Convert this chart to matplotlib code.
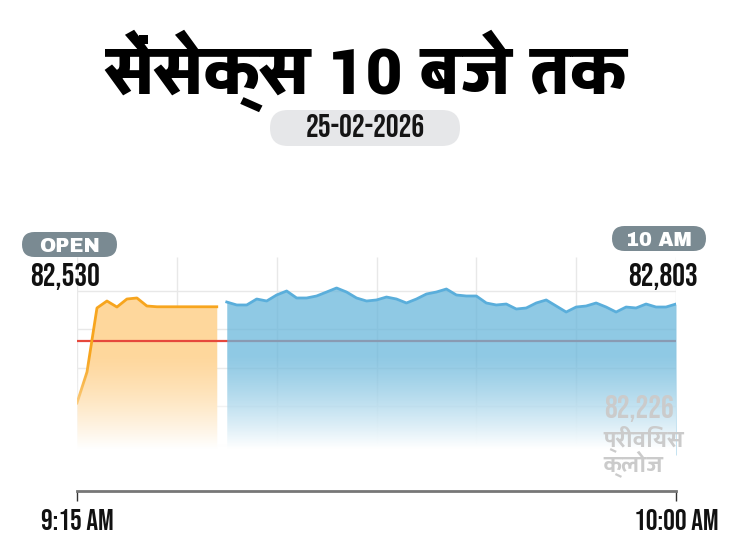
import numpy as np
import matplotlib
matplotlib.use("Agg")
import matplotlib.pyplot as plt
from matplotlib import font_manager as fm
from matplotlib.patches import FancyBboxPatch
from matplotlib.transforms import IdentityTransform

# Data (Sensex points, one reading every 45 s)
step_min = 0.75
open_vals = [81259, 81742, 82741, 82850, 82756, 82881, 82897, 82772,
             82760, 82760, 82760, 82760, 82760, 82760, 82760]
live_vals = [82834, 82788, 82788, 82881, 82850, 82944, 83006, 82897, 82897, 82928,
             82990, 83053, 82990, 82897, 82850, 82866, 82912, 82881, 82819, 82881,
             82959, 82990, 83037, 82944, 82928, 82928, 82819, 82788, 82803, 82725,
             82741, 82819, 82866, 82772, 82678, 82756, 82772, 82819, 82756, 82678,
             82756, 82741, 82803, 82756, 82756, 82803]
prev_close = 82226
open_label = "82,530"
last_label = "82,803"
prev_label = "82,226"
x_labels = ["9:15 AM", "10:00 AM"]
title = "सेंसेक्स 10 बजे तक"
date_txt = "25-02-2026"
prev_txt = "प्रीवियस\nक्लोज"

W, H = 730, 548
have = {f.name for f in fm.fontManager.ttflist}


def fonts(*names):
    return [n for n in names if n in have] + ["DejaVu Sans"]


f_title = fonts("Yantramanav", "Mukta", "Hind")
f_num = fonts("Bebas Neue", "Fjalla One", "Oswald", "Roboto Condensed")
f_badge = fonts("Archivo Black", "Lato")
f_hin = fonts("Yantramanav", "Mukta", "Hind")

fig = plt.figure(figsize=(W / 100, H / 100), dpi=100)


def fx(x):
    return x / W


def fy(y):
    return 1 - y / H


def pill(x0, y0, x1, y1, color):
    r = (y1 - y0) / 2
    p = FancyBboxPatch((x0 + r, H - y1 + r), x1 - x0 - 2 * r, y1 - y0 - 2 * r,
                       boxstyle="round,pad=%f" % r, transform=IdentityTransform(),
                       facecolor=color, edgecolor="none")
    fig.add_artist(p)


# header
fig.text(fx(366), fy(94), title, ha="center", va="baseline", fontsize=51,
         family=f_title, weight="black", color="black")
pill(270, 110, 460, 146, "#e6e7e9")
fig.text(fx(365), fy(137), date_txt, ha="center", va="baseline", fontsize=23,
         family=f_num, color="#151515")

# chart
ax = fig.add_axes([fx(77), fy(491), fx(676) - fx(77), (491 - 257) / H])
k = 15.6  # points per pixel
ybot = prev_close - 150 * k
ytop = prev_close + 84 * k
ax.set_xlim(0, 45)
ax.set_ylim(ybot, ytop)

x_open = np.arange(len(open_vals)) * step_min
x_live = (np.arange(len(live_vals)) + len(open_vals)) * step_min
fill_floor = prev_close - 114 * k

grid_y = 83010 - 600 * np.arange(5)
ax.hlines(grid_y, 0, 45, color="#e8e8e8", lw=1, zorder=0)
ax.vlines(np.arange(0, 45.1, 7.5), fill_floor, ytop, color="#e8e8e8", lw=1, zorder=0)

ax.fill_between(x_open, open_vals, fill_floor, color="#fed79c", lw=0, zorder=1)
ax.plot(x_open, open_vals, color="#f7a51e", lw=2, zorder=4, solid_joinstyle="round")
ax.axhline(prev_close, color="#e6483c", lw=1.6, zorder=2)
ax.fill_between(x_live, live_vals, fill_floor, color="#6ab7db", alpha=0.75, lw=0, zorder=3)
ax.plot(x_live, live_vals, color="#5aaedb", lw=2, zorder=4, solid_joinstyle="round")

# fade to white at the bottom
fade = np.ones((120, 1, 4))
fade[:, 0, 3] = np.clip(np.linspace(0, 1.15, 120), 0, 1) ** 1.3
ax.imshow(fade, extent=(0, 45, prev_close - 122 * k, prev_close - 12 * k),
          origin="upper", aspect="auto", zorder=5)

for s in ["top", "left", "right"]:
    ax.spines[s].set_visible(False)
ax.spines["bottom"].set_color("#777777")
ax.spines["bottom"].set_linewidth(2)
ax.set_yticks([])
ax.set_xticks([0, 45])
ax.set_xticklabels(x_labels, fontsize=21, family=f_num, color="#111111")
ax.tick_params(axis="x", length=7, width=1, color="#333333", pad=6)

# labels over the chart
pill(22, 232, 117, 257, "#7a8a92")
fig.text(fx(69.5), fy(245), "OPEN", ha="center", va="center_baseline", fontsize=14,
         family=f_badge, weight="black", color="white")
fig.text(fx(30), fy(286), open_label, ha="left", va="baseline", fontsize=23,
         family=f_num, color="#111111")

pill(612, 226, 706, 251, "#7a8a92")
fig.text(fx(659), fy(239), "10 AM", ha="center", va="center_baseline", fontsize=14,
         family=f_badge, weight="black", color="white")
fig.text(fx(698), fy(286), last_label, ha="right", va="baseline", fontsize=23,
         family=f_num, color="#111111")

fig.text(fx(604), fy(418), prev_label, ha="left", va="baseline", fontsize=23,
         family=f_num, color="#cbcbcb", zorder=10)
fig.text(fx(603), fy(425), prev_txt, ha="left", va="top", fontsize=17,
         family=f_hin, weight="bold", color="#cbcbcb", linespacing=0.95, zorder=10)

fig.savefig("out.png", dpi=100)
